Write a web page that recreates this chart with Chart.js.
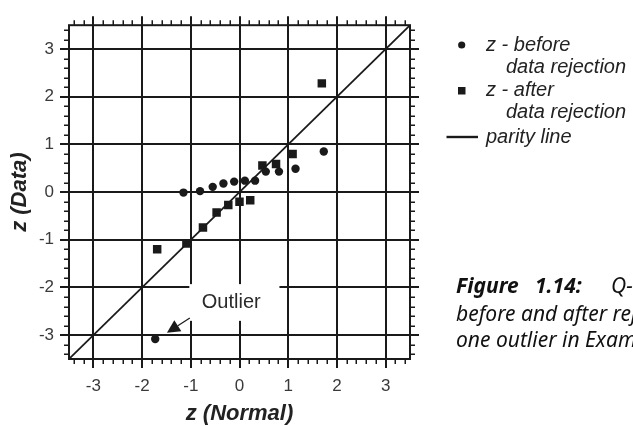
<!DOCTYPE html>
<html><head><meta charset="utf-8">
<script src="https://cdn.jsdelivr.net/npm/chart.js@4"></script>
<style>html,body{margin:0;padding:0;background:#fff;overflow:hidden}canvas{display:block}</style>
</head><body>
<canvas id="c" width="633" height="426"></canvas>
<script>
// ---- data ----
const TICKS = [-3, -2, -1, 0, 1, 2, 3];
const AXIS_MIN = -3.5, AXIS_MAX = 3.5;
const Z_NORMAL_BEFORE = [-1.73, -1.15, -0.81, -0.55, -0.33, -0.11, 0.11, 0.32, 0.54, 0.81, 1.15, 1.73];
const Z_DATA_BEFORE   = [-3.08, -0.01, 0.02, 0.11, 0.18, 0.22, 0.24, 0.24, 0.43, 0.43, 0.49, 0.85];
const Z_NORMAL_AFTER  = [-1.69, -1.09, -0.75, -0.47, -0.23, 0.00, 0.22, 0.47, 0.75, 1.09, 1.69];
const Z_DATA_AFTER    = [-1.20, -1.08, -0.74, -0.43, -0.27, -0.20, -0.17, 0.56, 0.59, 0.80, 2.28];
const PARITY = [-3.5, 3.5];
const LABEL_BEFORE = ['z - before', 'data rejection'];
const LABEL_AFTER = ['z - after', 'data rejection'];
const LABEL_PARITY = ['parity line'];
const X_TITLE = 'z (Normal)';
const Y_TITLE = 'z (Data)';
const OUTLIER_TEXT = 'Outlier';
const CAPTION_HEAD = ['Figure', '1.14:'];
const CAPTION_LINES = ['Q-Q plot of the data', 'before and after rejection of', 'one outlier in Example 1.x'];

const INK = '#1a1a1a';
const SANS = '"Liberation Sans", Arial, sans-serif';

const pts = (xs, ys) => xs.map((x, i) => ({x, y: ys[i]}));

const decor = {
  id: 'decor',
  beforeDatasetsDraw(chart) {
    const {ctx, chartArea: ca} = chart;
    const xs = chart.scales.x, ys = chart.scales.y;
    ctx.save();
    // border
    ctx.strokeStyle = INK;
    ctx.lineWidth = 2;
    ctx.strokeRect(ca.left, ca.top, ca.right - ca.left, ca.bottom - ca.top);
    // major tick extensions
    TICKS.forEach(v => {
      const px = Math.round(xs.getPixelForValue(v));
      const py = Math.round(ys.getPixelForValue(v));
      ctx.beginPath();
      ctx.moveTo(px, ca.top - 9); ctx.lineTo(px, ca.top);
      ctx.moveTo(px, ca.bottom); ctx.lineTo(px, ca.bottom + 9);
      ctx.moveTo(ca.left - 9, py); ctx.lineTo(ca.left, py);
      ctx.moveTo(ca.right, py); ctx.lineTo(ca.right + 9, py);
      ctx.stroke();
    });
    // minor ticks
    ctx.lineWidth = 1.5;
    for (let i = -17; i <= 17; i++) {
      if (i % 5 === 0) continue;
      const v = i * 0.2;
      const px = Math.round(xs.getPixelForValue(v)) + 0.25;
      const py = Math.round(ys.getPixelForValue(v)) + 0.25;
      ctx.beginPath();
      ctx.moveTo(px, ca.top - 5); ctx.lineTo(px, ca.top);
      ctx.moveTo(px, ca.bottom); ctx.lineTo(px, ca.bottom + 5);
      ctx.moveTo(ca.left - 5, py); ctx.lineTo(ca.left, py);
      ctx.moveTo(ca.right, py); ctx.lineTo(ca.right + 5, py);
      ctx.stroke();
    }
    // outlier annotation box (data coordinates)
    const bx0 = xs.getPixelForValue(-1.03), bx1 = xs.getPixelForValue(0.82);
    const by0 = ys.getPixelForValue(-1.93), by1 = ys.getPixelForValue(-2.70);
    ctx.fillStyle = '#fff';
    ctx.fillRect(bx0, by0, bx1 - bx0, by1 - by0);
    ctx.fillStyle = '#2a2a2a';
    ctx.font = '20px ' + SANS;
    ctx.textAlign = 'center';
    ctx.textBaseline = 'middle';
    ctx.fillText(OUTLIER_TEXT, xs.getPixelForValue(-0.17), ys.getPixelForValue(-2.31));
    // arrow
    const tx = xs.getPixelForValue(-1.02), ty = ys.getPixelForValue(-2.64);
    const hx = xs.getPixelForValue(-1.49), hy = ys.getPixelForValue(-2.95);
    const dx = hx - tx, dy = hy - ty, L = Math.hypot(dx, dy);
    const ux = dx / L, uy = dy / L;
    const hl = 13, hw = 6.5;
    const bxp = hx - ux * hl, byp = hy - uy * hl;
    ctx.strokeStyle = INK; ctx.lineWidth = 1.2;
    ctx.beginPath(); ctx.moveTo(tx, ty); ctx.lineTo(bxp, byp); ctx.stroke();
    ctx.fillStyle = INK;
    ctx.beginPath();
    ctx.moveTo(hx, hy);
    ctx.lineTo(bxp - uy * hw, byp + ux * hw);
    ctx.lineTo(bxp + uy * hw, byp - ux * hw);
    ctx.closePath(); ctx.fill();
    ctx.restore();
  },
  afterDraw(chart) {
    const ctx = chart.ctx;
    ctx.save();
    // legend
    ctx.fillStyle = INK;
    ctx.beginPath(); ctx.arc(461.7, 45, 3.6, 0, Math.PI * 2); ctx.fill();
    ctx.fillRect(458, 87, 7.5, 7.5);
    ctx.strokeStyle = INK; ctx.lineWidth = 2.4;
    ctx.beginPath(); ctx.moveTo(446.5, 137); ctx.lineTo(478, 137); ctx.stroke();
    ctx.fillStyle = '#222';
    ctx.font = 'italic 20px ' + SANS;
    ctx.textAlign = 'left'; ctx.textBaseline = 'middle';
    ctx.fillText(LABEL_BEFORE[0], 486, 45);
    ctx.fillText(LABEL_BEFORE[1], 506, 67.5);
    ctx.fillText(LABEL_AFTER[0], 486, 90.7);
    ctx.fillText(LABEL_AFTER[1], 506, 112.5);
    ctx.fillText(LABEL_PARITY[0], 486, 137);
    // caption
    ctx.fillStyle = '#111';
    ctx.textBaseline = 'alphabetic';
    ctx.font = 'italic bold 21px "Noto Sans", sans-serif';
    ctx.fillText(CAPTION_HEAD[0], 456, 293);
    ctx.fillText(CAPTION_HEAD[1], 535, 293);
    ctx.font = 'italic 21px "Noto Sans", sans-serif';
    ctx.fillText(CAPTION_LINES[0], 611, 293);
    ctx.fillText(CAPTION_LINES[1], 456, 321);
    ctx.fillText(CAPTION_LINES[2], 456, 347);
    ctx.restore();
  }
};

const tickFont = {family: SANS, size: 17};
const titleFont = {family: SANS, size: 22, style: 'italic', weight: 'bold'};

new Chart(document.getElementById('c'), {
  type: 'scatter',
  data: {
    datasets: [
      {label: LABEL_PARITY.join(' '), data: pts(PARITY, PARITY), showLine: true,
       borderColor: INK, borderWidth: 1.7, pointRadius: 0, order: 3},
      {label: LABEL_BEFORE.join(' '), data: pts(Z_NORMAL_BEFORE, Z_DATA_BEFORE),
       pointStyle: 'circle', pointRadius: 4.2, backgroundColor: INK, borderWidth: 0, order: 1},
      {label: LABEL_AFTER.join(' '), data: pts(Z_NORMAL_AFTER, Z_DATA_AFTER),
       pointStyle: 'rect', pointRadius: 6, backgroundColor: INK, borderWidth: 0, order: 2}
    ]
  },
  options: {
    responsive: false,
    animation: false,
    devicePixelRatio: 1,
    layout: {padding: {top: 16, right: 223, left: 0, bottom: 0}},
    plugins: {legend: {display: false}, tooltip: {enabled: false}},
    scales: {
      x: {
        type: 'linear', min: AXIS_MIN, max: AXIS_MAX,
        afterBuildTicks: s => { s.ticks = TICKS.map(v => ({value: v})); },
        afterFit: s => { s.height = 67; },
        grid: {color: INK, lineWidth: 2, drawTicks: false},
        border: {display: false},
        ticks: {font: tickFont, color: '#3a3a3a', padding: 17, autoSkip: false, maxRotation: 0},
        title: {display: true, text: X_TITLE, font: titleFont, color: '#222', padding: {top: 0, bottom: -1}}
      },
      y: {
        type: 'linear', min: AXIS_MIN, max: AXIS_MAX,
        afterBuildTicks: s => { s.ticks = TICKS.map(v => ({value: v})); },
        afterFit: s => { s.width = 69; },
        grid: {color: INK, lineWidth: 2, drawTicks: false},
        border: {display: false},
        ticks: {font: tickFont, color: '#3a3a3a', padding: 15, autoSkip: false},
        title: {display: true, text: Y_TITLE, font: titleFont, color: '#222', padding: {top: 7, bottom: 0}}
      }
    }
  },
  plugins: [decor]
});
</script>
</body></html>
